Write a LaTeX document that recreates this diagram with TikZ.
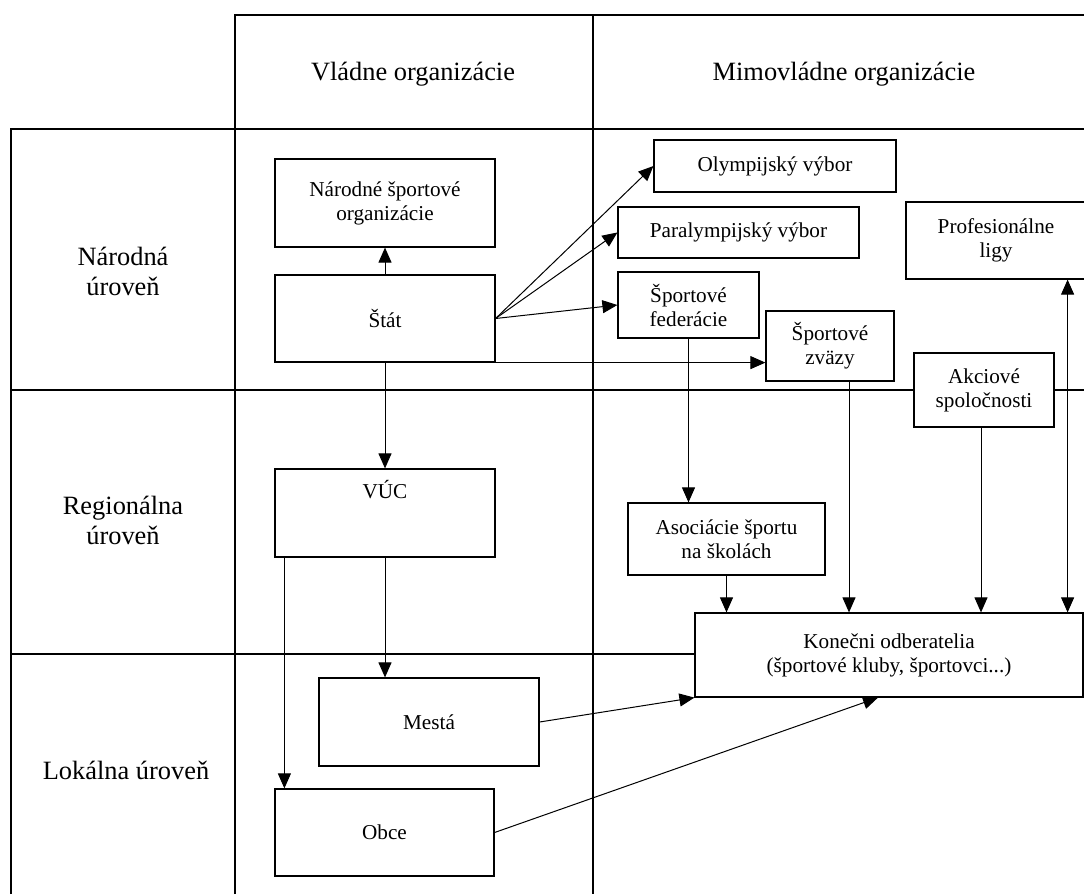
\documentclass[tikz,border=0pt]{standalone}
\usepackage{fontspec}
\setmainfont{Liberation Serif}
\usetikzlibrary{arrows.meta}

\begin{document}
\begin{tikzpicture}[x=1pt, y=-1pt,
  grid/.style={line width=2pt},
  box/.style={draw, line width=1.2pt, fill=white, inner sep=0pt, align=center,
              font=\fontsize{21.2}{24}\selectfont},
  head/.style={align=center, inner sep=0pt, font=\fontsize{26.4}{30}\selectfont},
  tip/.tip={Triangle[length=15pt, width=13pt]},
  link/.style={line width=1pt, -tip},
  duallink/.style={line width=1pt, tip-tip},
]
\useasboundingbox (0,0) rectangle (1084,894);

% table grid
\draw[grid] (235,894) -- (235,15) -- (1084,15);
\draw[grid] (593,15) -- (593,894);
\draw[grid] (11,894) -- (11,129) -- (1084,129);
\draw[grid] (11,390) -- (1084,390);
\draw[grid] (11,654) -- (1084,654);

% column and row headings
\node[head] (hgov)  at (413,74) {Vládne organizácie};
\node[head] (hngo)  at (844,74) {Mimovládne organizácie};
\node[head] (hnat)  at (123,271) {Národná\\úroveň};
\node[head] (hreg)  at (123,520) {Regionálna\\úroveň};
\node[head] (hloc)  at (126,770) {Lokálna úroveň};

% governmental bodies
\node[box, minimum width=220pt, minimum height=88pt] (nso)   at (385,203)   {Národné športové\\organizácie};
\node[box, minimum width=220pt, minimum height=87pt] (stat)  at (385,318.5) {Štát};
\node[box, minimum width=220pt, minimum height=88pt] (vuc)   at (385,513)   {};
\node[anchor=base, inner sep=0pt, font=\fontsize{21.2}{24}\selectfont] (vuctext) at ([yshift=-30pt]vuc.north) {VÚC};
\node[box, minimum width=220pt, minimum height=88pt] (mesta) at (429,722)   {Mestá};
\node[box, minimum width=219pt, minimum height=87pt] (obce)  at (384.5,832.5) {Obce};

% non-governmental bodies
\node[box, minimum width=242pt, minimum height=52pt] (olymp) at (775,166)   {Olympijský výbor};
\node[box, minimum width=241pt, minimum height=51pt] (para)  at (738.5,232.5) {Paralympijský výbor};
\node[box, minimum width=141pt, minimum height=66pt] (fed)   at (688.5,305) {Športové\\federácie};
\node[box, minimum width=128pt, minimum height=70pt] (zvazy) at (830,346)   {Športové\\zväzy};
\node[box, minimum width=140pt, minimum height=74pt] (akc)   at (984,390)   {Akciové\\spoločnosti};
\node[box, minimum width=180pt, minimum height=77pt] (liga)  at (996,240.5) {Profesionálne\\ligy};
\node[box, minimum width=197pt, minimum height=72pt] (asoc)  at (726.5,539) {Asociácie športu\\na školách};
\node[box, minimum width=388pt, minimum height=84pt] (konec) at (889,655)   {Konečni odberatelia\\(športové kluby, športovci...)};

% helper points for off-centre connectors
\coordinate (vucL) at ([xshift=10pt]vuc.south west);
\coordinate (zvB)  at ([xshift=19pt]zvazy.south);
\coordinate (akB)  at ([xshift=-3pt]akc.south);
\coordinate (ligB) at ([xshift=-19pt]liga.south east);
\coordinate (konB) at ([xshift=-11pt]konec.south);

% connectors
\draw[link] (stat.north) -- (nso.south);
\draw[link] (stat.east) -- (olymp.west);
\draw[link] (stat.east) -- (para.west);
\draw[link] (stat.east) -- (fed.west);
\draw[link] (stat.south east) -- (stat.south east -| zvazy.west);
\draw[link] (stat.south) -- (vuc.north);
\draw[link] (vuc.south) -- (vuc.south |- mesta.north);
\draw[link] (vucL) -- (vucL |- obce.north);
\draw[link] (fed.south) -- (fed.south |- asoc.north);
\draw[link] (asoc.south) -- (asoc.south |- konec.north);
\draw[link] (zvB) -- (zvB |- konec.north);
\draw[link] (akB) -- (akB |- konec.north);
\draw[duallink] (ligB) -- (ligB |- konec.north);
\draw[link] (mesta.east) -- (konec.south west);
\draw[link] (obce.east) -- (konB);
\end{tikzpicture}
\end{document}
